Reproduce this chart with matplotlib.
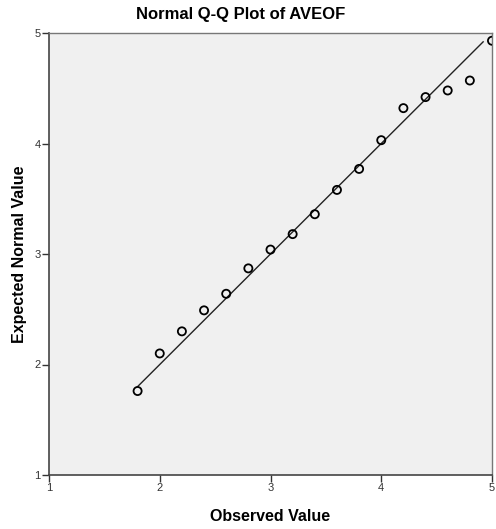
import matplotlib
matplotlib.use("Agg")
import matplotlib.pyplot as plt

observed = [1.8, 2.0, 2.2, 2.4, 2.6, 2.8, 3.0, 3.2, 3.4, 3.6, 3.8, 4.0, 4.2, 4.4, 4.6, 4.8, 5.0]
expected = [1.76, 2.10, 2.30, 2.49, 2.64, 2.87, 3.04, 3.18, 3.36, 3.58, 3.77, 4.03, 4.32, 4.42, 4.48, 4.57, 4.93]
line_x = [1.80, 4.92]
ticks = [1, 2, 3, 4, 5]

plt.rcParams['font.family'] = ['Liberation Sans', 'DejaVu Sans']

fig = plt.figure(figsize=(4.96, 5.29), dpi=100)
ax = fig.add_axes([49/496, 54/529, 443/496, 442/529])
ax.set_facecolor('#F0F0F0')

ax.plot(line_x, line_x, color='#222222', lw=1.0, zorder=2)
ax.scatter(observed, expected, s=34, facecolors='none', edgecolors='black', linewidths=1.3, zorder=3)

ax.set_xlim(1, 5)
ax.set_ylim(1, 5)
ax.set_xticks(ticks)
ax.set_yticks(ticks)
ax.set_xticklabels([str(t) for t in ticks])
ax.set_yticklabels([str(t) for t in ticks])
ax.tick_params(direction='out', length=5, width=1, colors='#333333', labelsize=8, pad=1)
for side in ['left', 'bottom']:
    ax.spines[side].set_color('#444444')
    ax.spines[side].set_linewidth(1.2)
for side in ['top', 'right']:
    ax.spines[side].set_color('#777777')
    ax.spines[side].set_linewidth(1.0)

fig.text(241/496, 1 - 15/529, 'Normal Q-Q Plot of AVEOF', fontsize=12, fontweight='bold',
         ha='center', va='center')
ax.set_xlabel('Observed Value', fontsize=11.5, fontweight='bold', labelpad=11)
ax.set_ylabel('Expected Normal Value', fontsize=11.5, fontweight='bold', labelpad=5)

fig.savefig('out.png', dpi=100, facecolor='white')
